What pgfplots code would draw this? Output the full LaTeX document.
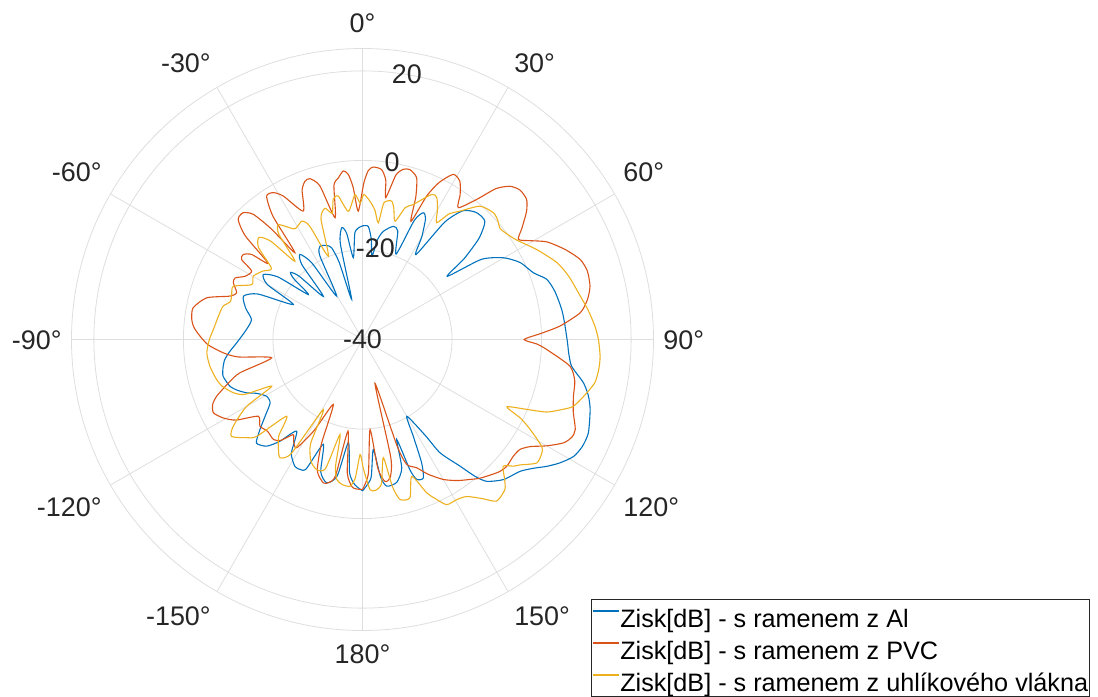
\documentclass[border=0pt]{standalone}
\usepackage{fontspec}
\setmainfont{Liberation Sans}
\usepackage{pgfplots}
\usepgfplotslibrary{polar}
\usepackage{pgfplotstable}
\pgfplotsset{compat=1.18}
\definecolor{mblue}{rgb}{0,0.447,0.741}
\definecolor{mred}{rgb}{0.85,0.325,0.098}
\definecolor{myel}{rgb}{0.929,0.694,0.125}
\definecolor{gridc}{gray}{0.87}
\definecolor{txt}{gray}{0.15}

\pgfplotstableread{
t r
-180 -6.2
-177 -7.5
-174.5 -10
-172.2 -16.8
-169.5 -9
-166 -7.0
-162.5 -9.0
-159.5 -15.0
-156.5 -8.5
-154.3 -7.8
-151.9 -7.9
-148 -10
-144.3 -14.8
-140.9 -10.7
-138.1 -8.0
-134.3 -6.9
-131.3 -9.5
-128 -12.5
-124.4 -15.0
-120.6 -15.1
-117 -13.5
-114.7 -11.5
-112 -9.8
-109.4 -8.6
-104.8 -7.8
-101.5 -8.2
-98.3 -8.9
-95 -10.3
-91.5 -11.9
-85 -14
-79.8 -14.8
-75 -13
-70 -11.7
-66.5 -14.5
-63.2 -22.7
-60 -15.5
-56.8 -13.5
-53.5 -16.5
-50.3 -24.3
-48.5 -19.5
-47 -18.0
-45 -20
-42.2 -27.0
-39 -18.5
-36.3 -16.4
-33.5 -19.5
-30.8 -28.7
-27 -19
-24.5 -17.1
-21 -17.5
-18.6 -18.4
-16.8 -22
-15.1 -30.7
-13 -18
-10.5 -14.6
-8.5 -16
-6.4 -21.6
-4 -16
-0.5 -14.7
2.9 -14.7
5 -17.5
6.5 -21.3
8.5 -17.5
10.9 -15.4
15.2 -13.8
18 -14.5
21.5 -19.5
23.5 -11
25.6 -8.6
27.5 -9.5
30 -13.5
32.2 -17.6
35 -8
38 -3.5
41.9 -1.9
46 -2.0
49 -5.5
51.5 -11
53.3 -16.4
56 -8
59.9 -3.6
64 -0.8
68.7 1.0
71.9 3.3
76 4.3
81.4 5.0
85.5 5.3
90.9 5.8
94 6.2
97.3 7.1
101.1 10.3
104 12
107.1 13.2
112.5 14.6
116 14.6
119 13.9
122 12
124.5 10.0
127 7.8
129.9 5.9
134.8 4.4
138.8 2.1
140.6 -0.5
142.4 -4.3
145.6 -9.3
146.8 -14.4
150 -20.2
152.3 -15.6
154.4 -9.4
156.3 -6.2
158.8 -6.5
160 -9
161.1 -16.4
163 -10
166.5 -7.2
170.6 -6.8
172.5 -9
174.4 -15.3
176.5 -9
180 -6.2
}\bluedata

\pgfplotstableread{
t r
-180 -6.5
-177.5 -6.6
-175.8 -7.1
-173.5 -10
-171 -19.3
-168.8 -9
-166.8 -7.2
-164.7 -6.8
-161 -9
-158.5 -15
-155.8 -24.1
-152 -17
-148.7 -11.7
-146 -12.5
-143.9 -13.7
-141 -11
-138.3 -10.1
-134 -10.5
-130.2 -10.0
-126.4 -11.1
-122.5 -6.5
-119.4 -4.3
-116.2 -2.9
-113.5 -3.5
-111.3 -5.0
-108 -8.5
-105.2 -11.6
-101.4 -19.3
-98 -12
-95.5 -8.8
-92 -5.5
-88.8 -3.7
-86 -2.3
-83.3 -1.6
-79.4 -1.5
-75 -4.0
-71.9 -8.8
-69.6 -10.0
-66.3 -8.5
-64.2 -8.4
-61.7 -10.2
-58.3 -10.9
-56.5 -7.6
-54.5 -7.3
-52.5 -8.8
-51.1 -12.9
-48.5 -5
-46 -1.4
-43.3 -1.1
-41.1 -2.9
-39.5 -8
-37.9 -15.4
-36 -6
-33.8 -1.5
-31.3 -1.6
-28.9 -3.4
-24.8 -8.4
-22 -4
-20 -2.4
-18.1 -2.2
-15.5 -4.4
-12.7 -12.1
-10.5 -5
-8.5 -3.5
-6.5 -2.1
-4.9 -3.0
-3.5 -6
-1.9 -11.3
0.5 -5
2 -2.2
3.6 -1.4
6.4 -1.8
8.3 -4
9.3 -7.9
11.5 -2.5
13.5 -0.9
15.6 -0.6
18.5 -1.9
20.5 -6
22.3 -11.5
24.1 -4.9
26 -1
28.8 2.1
31.6 1.5
34 -1
36 -3.6
39.2 0.4
41.5 5
43.9 7.5
46.5 8.5
49.5 8.2
52 6.5
55 3.5
57.3 1.4
59.5 3.5
62.1 6.6
66 9.5
69.8 11.8
73 12.5
76.8 12.2
80 11
83 9.0
86.1 4.2
88 0
90 -3.9
91.5 -1
93.1 1.2
97.3 6.7
101 8.3
105.1 8.8
109 9.8
112.9 11.6
115 11.6
117.2 10.5
120 7.5
122.5 4.5
124.9 2.9
127.7 2.6
131.3 2.9
134 2.5
137 1.5
140 0.5
142.5 -0.6
146 -2
150 -3.9
154 -6.5
157.1 -8.9
160.5 -10.4
162 -15
164.1 -29.8
166.5 -13
168.6 -8.6
171 -7.9
173.2 -11
175.2 -19.8
177.5 -10
180 -6.5
}\reddata

\pgfplotstableread{
t r
-180 -12
-178.8 -14.3
-177 -9
-175.1 -7.1
-172 -7.3
-169.6 -8.2
-168 -11
-166.7 -18.2
-164 -10
-160.6 -9.2
-157 -10.5
-153.5 -14
-150.8 -22.1
-148 -10
-145.1 -7.8
-142.6 -9.1
-139 -11.5
-135.3 -15.9
-132.5 -8
-130.3 -6.1
-126.5 -3.6
-123.9 -5.2
-120 -10.1
-117.2 -17.2
-115 -11
-112.4 -8.8
-108.5 -7
-105.3 -6.2
-100 -5.4
-94.9 -5.1
-90 -5.8
-86.2 -6.6
-80 -7.5
-76.5 -8.0
-74 -9.3
-71 -9.1
-67.6 -8.8
-63.6 -12.4
-59.9 -11.8
-55.5 -13
-52 -14.2
-48.5 -9
-45.4 -7.5
-43 -10
-40.8 -16.9
-38.5 -10
-36.2 -8.2
-31.5 -11
-27.2 -10.3
-25 -12
-22.3 -19.9
-19 -11.5
-16 -9.5
-13.5 -11
-11.8 -8.0
-9.6 -7.5
-6.3 -11.2
-3 -7.6
-1 -9.5
0.5 -7.6
3 -9
5.5 -11
7.7 -13.7
8.9 -9.1
11.9 -8.4
13.5 -10
15.4 -12.6
18 -9
20.6 -7.8
25.5 -4.1
27.6 -4.2
30 -6.5
32.4 -9.1
34.5 -6
37.2 -4.0
41.4 -0.3
45.9 0.7
48.5 0.3
51.1 -0.5
54 0
57.2 1.0
62.7 3.8
68.4 6.7
73 8.2
78.7 9.6
82.5 10.8
86.7 12.0
90 12.7
94 13.2
97 13.2
100.5 12.8
104 11.2
107.6 9.4
109.5 7
111.5 4.2
113 0
115 -4.4
116.5 -0.5
118.2 2.5
120.8 6.6
122.3 7.4
125.3 7.7
128.5 5
130 4.0
132 2.3
134.5 4.5
136.5 6.2
140.3 6.9
143 4.5
146.4 2.1
149.5 1.5
153 1.4
155.5 -1
157.3 -2.9
160.2 -7.5
163.3 -3.1
166.8 -3.3
168.5 -6.5
170 -13.2
172.5 -7.5
175 -6.2
177.1 -6.4
179 -10
180 -12
}\yeldata

\begin{document}
\begin{tikzpicture}
\useasboundingbox (0,0) rectangle (1098bp,-697bp);
\begin{polaraxis}[
  scale only axis, width=582bp, height=582bp,
  at={(362.5bp,-339.5bp)}, anchor=center,
  xmin=0, xmax=360, ymin=0, ymax=65,
  xtick={0,30,...,330}, xticklabels={},
  ytick={20,40,60}, yticklabels={},
  xmajorgrids, ymajorgrids,
  major grid style={draw=gridc, line width=0.8bp},
  axis line style={draw=gridc, line width=0.8bp},
  major tick length=0pt,
  clip=false,
]
\addplot[mblue, line width=1.1bp, smooth, tension=0.4] table[x expr={90-(\thisrow{t})}, y expr={\thisrow{r}+40}] {\bluedata};
\addplot[mred, line width=1.1bp, smooth, tension=0.4] table[x expr={90-(\thisrow{t})}, y expr={\thisrow{r}+40}] {\reddata};
\addplot[myel, line width=1.1bp, smooth, tension=0.4] table[x expr={90-(\thisrow{t})}, y expr={\thisrow{r}+40}] {\yeldata};

\tikzset{alab/.style={font=\fontsize{27}{32}\selectfont, text=txt, inner sep=2.5bp, text height=25.5bp, text depth=6bp},
         rlab/.style={font=\fontsize{27}{32}\selectfont, text=txt, inner sep=2.5bp}}
\node[alab, anchor=south] at (axis cs:90,66.7) {0°};
\node[alab, anchor=south west] at (axis cs:60,66.6) {30°};
\node[alab, anchor=south west] at (axis cs:30,66.6) {60°};
\node[alab, anchor=west] at (axis cs:0,66.6) {90°};
\node[alab, anchor=north west] at (axis cs:-30,66.6) {120°};
\node[alab, anchor=north west] at (axis cs:-60,66.6) {150°};
\node[alab, anchor=north] at (axis cs:-90,66.0) {180°};
\node[alab, anchor=north east] at (axis cs:-120,66.6) {-150°};
\node[alab, anchor=north east] at (axis cs:-150,66.6) {-120°};
\node[alab, anchor=east] at (axis cs:180,66.6) {-90°};
\node[alab, anchor=south east] at (axis cs:150,66.6) {-60°};
\node[alab, anchor=south east] at (axis cs:120,66.6) {-30°};
\node[rlab, anchor=center] at (axis cs:0,0) {-40};
\node[rlab, anchor=center] at (axis cs:82,20.6) {-20};
\node[rlab, anchor=center] at (axis cs:80.5,40.2) {0};
\node[rlab, anchor=center] at (axis cs:80.5,60) {20};
\end{polaraxis}
\begin{axis}[
  hide axis, scale only axis, width=10bp, height=10bp,
  at={(591bp,-599bp)}, anchor=north west,
  xmin=0, xmax=1, ymin=0, ymax=1,
  legend cell align=left,
  legend style={at={(0,1)}, anchor=north west, draw=txt, line width=0.7bp, fill=white,
    inner xsep=0.5bp, inner ysep=0.5bp, font=\fontsize{25.3}{30}\selectfont,
    row sep=0bp, column sep=0bp,
    nodes={inner sep=1bp, text height=27bp, text depth=3bp}},
  legend image code/.code={\draw[#1] (0bp,5bp) -- (26bp,5bp);},
]
\addlegendimage{draw=mblue, line width=1.4bp}
\addlegendentry{Zisk[dB] - s ramenem z Al}
\addlegendimage{draw=mred, line width=1.4bp}
\addlegendentry{Zisk[dB] - s ramenem z PVC}
\addlegendimage{draw=myel, line width=1.4bp}
\addlegendentry{Zisk[dB] - s ramenem z uhlíkového vlákna}
\end{axis}
\end{tikzpicture}
\end{document}
